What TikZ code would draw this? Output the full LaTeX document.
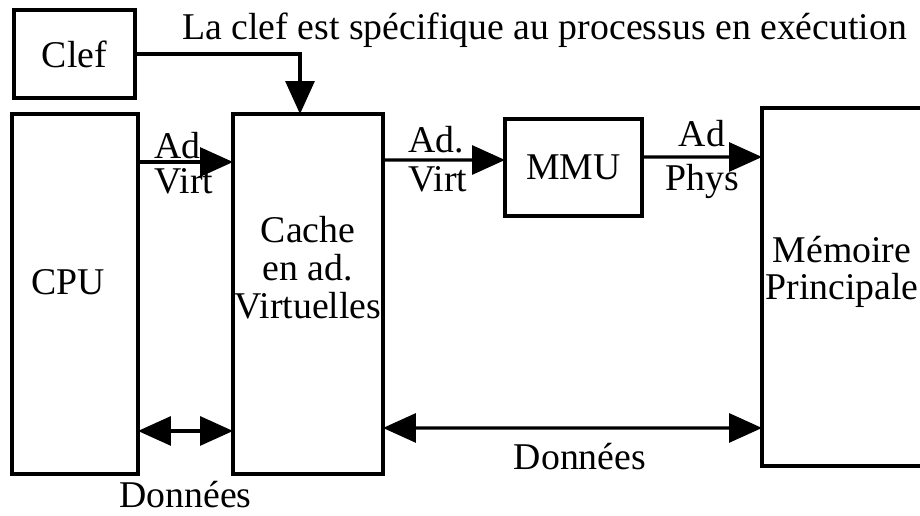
\documentclass[tikz,border=0pt]{standalone}
\usepackage{fontspec}
\setmainfont{Liberation Serif}
\usetikzlibrary{arrows.meta,calc}
\tikzset{
  blk/.style={rectangle,draw,line width=1.8pt,inner sep=0pt,outer sep=0pt},
  lbl/.style={inner sep=0pt},
  arr/.style={-{Triangle[length=0.66cm,width=0.58cm]},line width=1.8pt},
  darr/.style={{Triangle[length=0.66cm,width=0.58cm]}-{Triangle[length=0.66cm,width=0.58cm]},line width=1.8pt}
}

\begin{document}
\begin{tikzpicture}[x=0.02cm,y=0.02cm,font=\fontsize{21.5}{21.5}\selectfont]
\useasboundingbox (0,0) rectangle (920,516);
% boxes
\node[blk,minimum width=2.42cm,minimum height=1.76cm] (clef) at (74.5,462) {Clef};
\node[blk,minimum width=2.52cm,minimum height=7.2cm] (cpu) at (75,222) {};
\node[blk,minimum width=3cm,minimum height=7.2cm] (cache) at (308,222) {};
\node[blk,minimum width=2.74cm,minimum height=1.94cm] (mmu) at (573.5,348.5) {MMU};
\node[blk,minimum width=3.2cm,minimum height=7.16cm] (mem) at (842,229) {};
% box texts
\node[lbl] (cputxt) at (68,234) {CPU};
\node[lbl,align=center] (cachetxt) at (308,248.5) {Cache\\en ad.\\Virtuelles};
\node[lbl,align=center] (memtxt) at (842,244) {Mémoire\\Principale};
\node[lbl,anchor=base west] (note) at (182,476) {La clef est spécifique au processus en exécution};
% key
\draw[arr] (clef.east) -| ([xshift=-0.16cm]cache.north);
% addresses
\draw[arr] ([yshift=-0.96cm]cpu.north east) -- ([yshift=-0.96cm]cache.north west)
  node[lbl,at start,anchor=south west,xshift=0.3cm,yshift=0.04cm] {Ad}
  node[lbl,at start,anchor=north west,xshift=0.3cm,yshift=-0.1cm] {Virt};
\draw[arr] ([yshift=-0.92cm]cache.north east) -- ([yshift=0.15cm]mmu.west)
  node[lbl,at start,anchor=south west,xshift=0.48cm,yshift=0.1cm] {Ad.}
  node[lbl,at start,anchor=north west,xshift=0.48cm,yshift=-0.1cm] {Virt};
\draw[arr] ([yshift=0.21cm]mmu.east) -- ([yshift=-0.98cm]mem.north west)
  node[lbl,midway,anchor=south,yshift=0.18cm] {Ad}
  node[lbl,midway,anchor=north,yshift=-0.12cm] {Phys};
% data
\draw[darr] ([yshift=0.86cm]cpu.south east) -- ([yshift=0.86cm]cache.south west);
\node[lbl,anchor=north,yshift=-0.13cm] (don1) at ($(cpu.south east)!0.5!(cache.south west)$) {Données};
\draw[darr] ([yshift=0.92cm]cache.south east) -- ([yshift=0.76cm]mem.south west)
  node[lbl,midway,anchor=north,xshift=0.15cm,yshift=-0.28cm] {Données};
\end{tikzpicture}
\end{document}
